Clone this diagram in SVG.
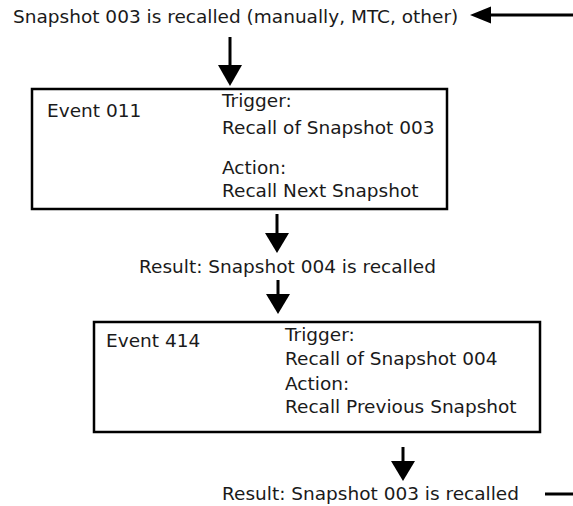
<svg xmlns="http://www.w3.org/2000/svg" width="573" height="506" viewBox="0 0 573 506">
<style>
text{font-family:"DejaVu Sans","Liberation Sans",sans-serif;font-size:18.5px;fill:#1a1a1a}
.box{fill:#fff;stroke:#000;stroke-width:2.5}
.ln{stroke:#000;stroke-width:3;fill:none}
.hd{fill:#000}
</style>
<rect width="573" height="506" fill="#fff"/>
<g id="start"><text x="13" y="23">Snapshot 003 is recalled (manually, MTC, other)</text></g>
<g id="event011">
<rect class="box" x="32" y="89" width="415" height="120"/>
<text x="47" y="117">Event 011</text>
<text x="222" y="107">Trigger:</text>
<text x="222" y="134">Recall of Snapshot 003</text>
<text x="222" y="174">Action:</text>
<text x="222" y="197">Recall Next Snapshot</text>
</g>
<g id="result1"><text x="139" y="273">Result: Snapshot 004 is recalled</text></g>
<g id="event414">
<rect class="box" x="94" y="322" width="446" height="110"/>
<text x="106" y="347">Event 414</text>
<text x="285" y="341">Trigger:</text>
<text x="285" y="365">Recall of Snapshot 004</text>
<text x="285" y="390">Action:</text>
<text x="285" y="413">Recall Previous Snapshot</text>
</g>
<g id="result2"><text x="222" y="500">Result: Snapshot 003 is recalled</text></g>
<g id="connectors">
<line class="ln" x1="488" y1="15" x2="573" y2="15"/><polygon class="hd" points="470,15 491,6.5 491,23.5"/>
<line class="ln" x1="230" y1="37" x2="230" y2="66"/><polygon class="hd" points="218,65 242,65 230,86"/>
<line class="ln" x1="277" y1="214" x2="277" y2="234"/><polygon class="hd" points="265,233 289,233 277,253"/>
<line class="ln" x1="278" y1="280" x2="278" y2="295"/><polygon class="hd" points="266,294 290,294 278,314"/>
<line class="ln" x1="403" y1="447" x2="403" y2="462"/><polygon class="hd" points="391,461 415,461 403,481"/>
<line class="ln" x1="545" y1="494" x2="573" y2="494"/>
</g>
</svg>
